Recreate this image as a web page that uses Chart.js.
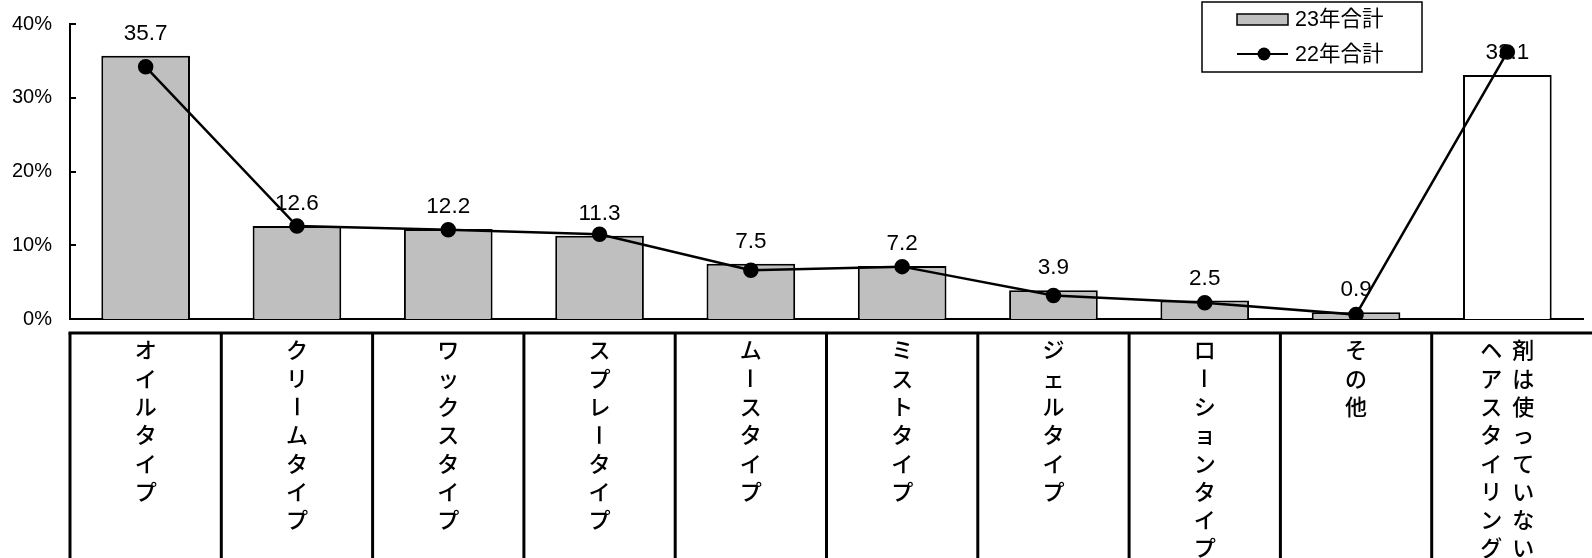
<!DOCTYPE html>
<html>
<head>
<meta charset="utf-8">
<script src="https://cdn.jsdelivr.net/npm/chart.js@4.4.1/dist/chart.umd.min.js"></script>
<style>
html, body { margin: 0; padding: 0; background: #fff; }
</style>
</head>
<body>
<canvas id="myChart" width="1592" height="558"></canvas>
<script>
const categories = ['オイルタイプ', 'クリームタイプ', 'ワックスタイプ', 'スプレータイプ', 'ムースタイプ',
    'ミストタイプ', 'ジェルタイプ', 'ローションタイプ', 'その他', 'ヘアスタイリング剤は使っていない']
const values23 = [35.7, 12.6, 12.2, 11.3, 7.5, 7.2, 3.9, 2.5, 0.9, 33.1]
const values22 = [34.2, 12.6, 12.1, 11.5, 6.6, 7.1, 3.2, 2.2, 0.6, 36.2]
const yTicks = [0, 10, 20, 30, 40]
const seriesNames = ['23年合計', '22年合計']

const jpFont = '"Noto Sans CJK JP", sans-serif'
const numFont = '"Liberation Sans", Arial, sans-serif'

// value labels above the bars (drawn before the line so the line covers them)
const barLabels = {
    id: 'barLabels',
    afterDatasetDraw(chart, args) {
        if (args.index !== 0) return
        const ctx = chart.ctx
        ctx.save()
        ctx.fillStyle = '#000'
        ctx.font = '22.5px ' + numFont
        ctx.textAlign = 'center'
        ctx.textBaseline = 'alphabetic'
        args.meta.data.forEach((bar, i) => {
            ctx.fillText(values23[i].toFixed(1), bar.x, bar.y - 16)
        })
        ctx.restore()
    }
}

// category table under the plot, text written top to bottom
const labelTable = {
    id: 'labelTable',
    afterDraw(chart) {
        const ctx = chart.ctx
        const x = chart.scales.x
        const y = chart.scales.y
        const step = x.getPixelForValue(1) - x.getPixelForValue(0)
        const top = 333
        ctx.save()

        // inward tick marks on the value axis
        ctx.strokeStyle = '#000'
        ctx.lineWidth = 2
        yTicks.forEach(t => {
            const py = Math.round(y.getPixelForValue(t))
            ctx.beginPath()
            ctx.moveTo(chart.chartArea.left, py)
            ctx.lineTo(chart.chartArea.left + 6, py)
            ctx.stroke()
        })

        ctx.lineWidth = 3
        ctx.beginPath()
        ctx.moveTo(x.getPixelForValue(0) - step / 2 - 1.5, top)
        ctx.lineTo(chart.width, top)
        ctx.stroke()
        for (let i = 0; i < categories.length; i++) {
            const bx = x.getPixelForValue(i) - step / 2
            ctx.beginPath()
            ctx.moveTo(bx, top)
            ctx.lineTo(bx, chart.height)
            ctx.stroke()
        }

        ctx.fillStyle = '#000'
        ctx.font = '500 22px ' + jpFont
        ctx.textAlign = 'center'
        ctx.textBaseline = 'middle'
        categories.forEach((label, i) => {
            const cx = x.getPixelForValue(i)
            const chars = Array.from(label)
            const cols = []
            for (let k = 0; k < chars.length; k += 8) cols.push(chars.slice(k, k + 8))
            cols.forEach((col, c) => {
                const colX = cx + (c - (cols.length - 1) / 2) * 32
                col.forEach((ch, r) => {
                    const cy = 350 + r * 28.3
                    if (ch === 'ー') {
                        ctx.save()
                        ctx.translate(colX, cy)
                        ctx.rotate(Math.PI / 2)
                        ctx.fillText(ch, 0, 0)
                        ctx.restore()
                    } else {
                        ctx.fillText(ch, colX, cy)
                    }
                })
            })
        })
        ctx.restore()
    }
}

// boxed legend in the upper right
const legendBox = {
    id: 'legendBox',
    afterDraw(chart) {
        const ctx = chart.ctx
        ctx.save()
        ctx.fillStyle = '#fff'
        ctx.strokeStyle = '#000'
        ctx.lineWidth = 1.5
        ctx.fillRect(1202, 2, 220, 70)
        ctx.strokeRect(1202, 2, 220, 70)

        ctx.fillStyle = '#bfbfbf'
        ctx.fillRect(1237, 14, 51, 11)
        ctx.strokeRect(1237, 14, 51, 11)

        ctx.lineWidth = 2
        ctx.beginPath()
        ctx.moveTo(1237, 54)
        ctx.lineTo(1288, 54)
        ctx.stroke()
        ctx.fillStyle = '#000'
        ctx.beginPath()
        ctx.arc(1264, 54, 6.5, 0, Math.PI * 2)
        ctx.fill()

        ctx.font = '21.5px ' + numFont + ', ' + jpFont
        ctx.textAlign = 'left'
        ctx.textBaseline = 'middle'
        ctx.fillText(seriesNames[0], 1295, 20)
        ctx.fillText(seriesNames[1], 1295, 55)
        ctx.restore()
    }
}

new Chart(document.getElementById('myChart'), {
    data: {
        labels: categories,
        datasets: [{
            type: 'bar',
            label: seriesNames[0],
            data: values23,
            order: 1,
            backgroundColor: values23.map((v, i) => i === values23.length - 1 ? '#ffffff' : '#bfbfbf'),
            borderColor: '#000',
            borderWidth: 2,
            barPercentage: 0.586,
            categoryPercentage: 1,
        }, {
            type: 'line',
            label: seriesNames[1],
            data: values22,
            order: 0,
            borderColor: '#000',
            borderWidth: 2.5,
            pointRadius: 6.5,
            pointBackgroundColor: '#000',
            pointBorderColor: '#000',
            tension: 0,
        }]
    },
    options: {
        responsive: false,
        animation: false,
        layout: {
            padding: { left: 10, top: 24, right: 2, bottom: 239 }
        },
        scales: {
            x: {
                grid: { display: false, drawTicks: false },
                border: { display: true, color: '#000', width: 2 },
                ticks: { display: false },
                afterFit: scale => { scale.height = 0 },
            },
            y: {
                min: 0,
                max: 40,
                grid: { display: false, drawTicks: true, tickLength: 18 },
                border: { display: true, color: '#000', width: 2 },
                afterBuildTicks: scale => { scale.ticks = yTicks.map(v => ({ value: v })) },
                afterFit: scale => { scale.width = 60 },
                ticks: {
                    color: '#000',
                    padding: 0,
                    font: { size: 20, family: numFont },
                    callback: v => v + '%',
                },
            },
        },
        plugins: {
            legend: { display: false },
            tooltip: { enabled: false },
        },
    },
    plugins: [barLabels, labelTable, legendBox],
});
</script>
</body>
</html>
